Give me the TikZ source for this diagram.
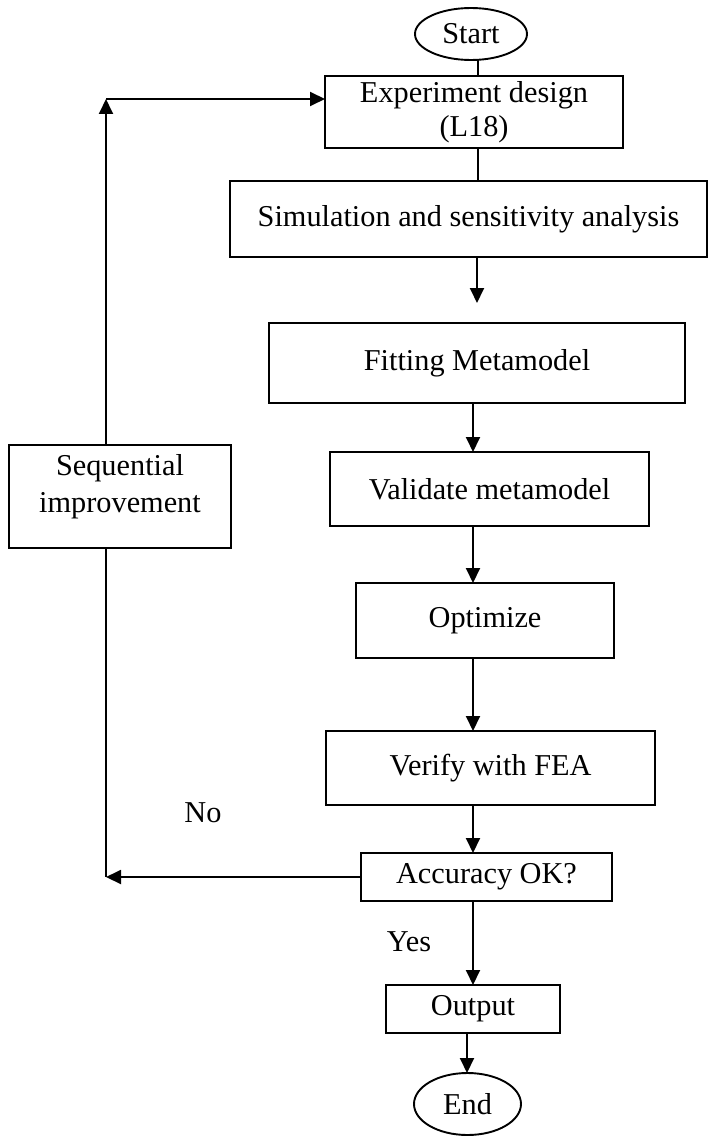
\documentclass[tikz,border=0pt]{standalone}
\usepackage{fontspec}
\setmainfont{Liberation Serif}
\usetikzlibrary{shapes.geometric,arrows.meta}
\begin{document}
\begin{tikzpicture}[x=1pt,y=-1pt,
  every node/.style={font=\fontsize{30.3}{34}\selectfont, inner sep=0pt, outer sep=0pt},
  box/.style={draw, line width=1.9pt, rectangle, align=center},
  term/.style={draw, line width=1.9pt, ellipse},
  line/.style={line width=1.9pt},
  arr/.style={line width=1.9pt, -{Triangle[length=15pt,width=14pt]}}]
\useasboundingbox (0,0) rectangle (709,1137);
\fill[white] (0,0) rectangle (709,1137);

\node[term, minimum width=112pt, minimum height=52pt] (start) at (471,34) {Start};
\node[box, minimum width=298pt, minimum height=72pt] (exp) at (474,112) {Experiment design\\(L18)};
\node[box, minimum width=477pt, minimum height=76pt] (sim) at (468.5,219) {Simulation and sensitivity analysis};
\node[box, minimum width=416pt, minimum height=80pt] (fit) at (477,363) {Fitting Metamodel};
\node[box, minimum width=319pt, minimum height=74pt] (val) at (489.5,489) {Validate metamodel};
\node[box, minimum width=258pt, minimum height=75pt] (opt) at (485,620.5) {Optimize};
\node[box, minimum width=329pt, minimum height=74pt] (ver) at (490.5,768) {Verify with FEA};
\node[box, minimum width=251pt, minimum height=48pt] (acc) at (486.5,877) {Accuracy OK?};
\node[box, minimum width=174pt, minimum height=48pt] (out) at (473,1009) {Output};
\node[term, minimum width=107pt, minimum height=62pt] (end) at (467.5,1104) {End};
\node[box, minimum width=222pt, minimum height=103pt, font=\fontsize{30.3}{37}\selectfont, text depth=27pt] (seq) at (120,496.5) {Sequential\\improvement};

\node (no) at (203,813) {No};
\node (yes) at (409,942) {Yes};

\coordinate (colA) at (478,0);
\coordinate (colB) at (477,0);
\coordinate (colC) at (473,0);
\coordinate (colD) at (467,0);
\coordinate (colL) at (106,0);
\coordinate (loop) at (106,99);
\coordinate (fitin) at ([yshift=20pt]fit.north);

\draw[line] (start.south -| colA) -- (exp.north -| colA);
\draw[line] (exp.south -| colA) -- (sim.north -| colA);
\draw[arr] (sim.south -| colB) -- (fitin -| colB);
\draw[arr] (fit.south -| colC) -- (val.north -| colC);
\draw[arr] (val.south -| colC) -- (opt.north -| colC);
\draw[arr] (opt.south -| colC) -- (ver.north -| colC);
\draw[arr] (ver.south -| colC) -- (acc.north -| colC);
\draw[arr] (acc.south -| colC) -- (out.north -| colC);
\draw[arr] (out.south -| colD) -- (end.north -| colD);

\draw[arr] (acc.west) -- (acc.west -| colL);
\draw[line] (seq.south -| colL) -- (acc.west -| colL);
\draw[arr] (seq.north -| colL) -- (loop);
\draw[arr] (loop) -- (loop -| exp.west);
\end{tikzpicture}
\end{document}
